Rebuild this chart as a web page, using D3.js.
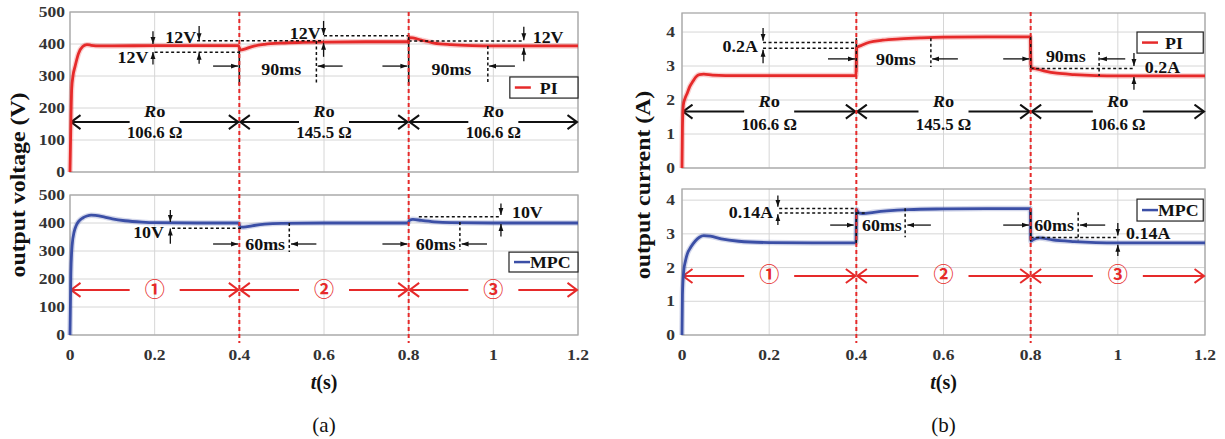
<!DOCTYPE html>
<html>
<head>
<meta charset="utf-8">
<script src="https://cdn.jsdelivr.net/npm/d3@7"></script>
<style>
  body { margin: 0; background: #fff; }
  svg { display: block; }
</style>
</head>
<body>
<svg width="1225" height="439"></svg>
<script>
// ---- data ----
var timeTicks = [0, 0.2, 0.4, 0.6, 0.8, 1, 1.2];
var voltTicks = [0, 100, 200, 300, 400, 500];
var currTicks = [0, 1, 2, 3, 4];
var stepTimes = [0.4, 0.8];
var loadValues = ["106.6 Ω", "145.5 Ω", "106.6 Ω"];
var stageNames = ["①", "②", "③"];

var piVoltT = [0, 0.002, 0.004, 0.007, 0.012, 0.02, 0.03, 0.04, 0.05, 0.07, 0.1, 0.2, 0.3, 0.398, 0.402, 0.41, 0.43, 0.46, 0.5, 0.55, 0.6, 0.7, 0.798, 0.802, 0.81, 0.83, 0.86, 0.9, 0.95, 1.0, 1.2];
var piVolt  = [0, 150, 260, 300, 330, 370, 392, 398, 396, 394, 394, 395, 395, 395, 381, 383, 392, 399, 403, 405, 406, 407, 407, 420, 419, 412, 403, 398, 395, 394, 394];

var mpcVoltT = [0, 0.002, 0.005, 0.01, 0.015, 0.02, 0.03, 0.04, 0.05, 0.06, 0.08, 0.1, 0.13, 0.17, 0.2, 0.3, 0.398, 0.402, 0.41, 0.43, 0.46, 0.5, 0.6, 0.798, 0.802, 0.81, 0.83, 0.86, 0.9, 1.0, 1.2];
var mpcVolt  = [0, 220, 320, 370, 392, 405, 418, 425, 428, 427, 422, 415, 408, 403, 401, 400, 400, 386, 385, 390, 396, 399, 400, 400, 410, 413, 409, 404, 401, 400, 400];

var piCurrT = [0, 0.001, 0.003, 0.007, 0.012, 0.018, 0.025, 0.032, 0.04, 0.05, 0.07, 0.1, 0.2, 0.3, 0.399, 0.401, 0.41, 0.43, 0.46, 0.5, 0.55, 0.6, 0.7, 0.799, 0.801, 0.81, 0.83, 0.86, 0.9, 0.95, 1.0, 1.2];
var piCurr  = [0, 1.2, 1.85, 2.05, 2.2, 2.4, 2.55, 2.68, 2.75, 2.76, 2.73, 2.72, 2.72, 2.72, 2.72, 3.55, 3.6, 3.7, 3.76, 3.8, 3.83, 3.85, 3.86, 3.86, 2.95, 2.92, 2.86, 2.79, 2.75, 2.72, 2.71, 2.71];

var mpcCurrT = [0, 0.001, 0.004, 0.008, 0.012, 0.02, 0.03, 0.04, 0.05, 0.065, 0.09, 0.13, 0.2, 0.3, 0.399, 0.4005, 0.405, 0.415, 0.44, 0.47, 0.52, 0.6, 0.7, 0.799, 0.8005, 0.805, 0.82, 0.85, 0.9, 0.95, 1.0, 1.2];
var mpcCurr  = [0, 1.2, 1.9, 2.2, 2.4, 2.6, 2.78, 2.9, 2.95, 2.93, 2.85, 2.78, 2.74, 2.73, 2.73, 3.72, 3.62, 3.6, 3.64, 3.68, 3.72, 3.74, 3.75, 3.75, 2.78, 2.82, 2.88, 2.82, 2.77, 2.74, 2.73, 2.73];

var RED = "#e62a2a", BLUE = "#3b4fa6";
var SERIF = "'Times New Roman', 'Liberation Serif', serif";

var svg = d3.select("svg");
var defs = svg.append("defs");

// arrow heads
defs.append("marker").attr("id", "head")
    .attr("viewBox", "0 0 10 10").attr("refX", 10).attr("refY", 5)
    .attr("markerWidth", 7).attr("markerHeight", 7)
    .attr("markerUnits", "userSpaceOnUse").attr("orient", "auto")
    .append("path").attr("d", "M0,1.5 L10,5 L0,8.5 z").attr("fill", "#111");

function chevron(id, color) {
    defs.append("marker").attr("id", id)
        .attr("viewBox", "0 0 12 16").attr("refX", 10.5).attr("refY", 8)
        .attr("markerWidth", 12).attr("markerHeight", 16)
        .attr("markerUnits", "userSpaceOnUse").attr("orient", "auto")
        .append("path").attr("d", "M1,1 L10.5,8 L1,15")
        .attr("fill", "none").attr("stroke", color).attr("stroke-width", 2);
}
chevron("chevK", "#111");
chevron("chevR", RED);

// panel = pair of scales + group
function makePanel(x0, x1, yBot, yTop, yMax, yTicks, showX, tickPad) {
    var p = {};
    p.x = d3.scaleLinear().domain([0, 1.2]).range([x0, x1]);
    p.y = d3.scaleLinear().domain([0, yMax]).range([yBot, yTop]);
    p.g = svg.append("g");

    // grid
    p.g.selectAll(".gx").data(timeTicks).join("line")
        .attr("x1", d => p.x(d)).attr("x2", d => p.x(d))
        .attr("y1", yTop).attr("y2", yBot)
        .attr("stroke", "#d6d6d6").attr("stroke-width", 1);
    p.g.selectAll(".gy").data(yTicks).join("line")
        .attr("x1", x0).attr("x2", x1)
        .attr("y1", d => p.y(d)).attr("y2", d => p.y(d))
        .attr("stroke", "#d6d6d6").attr("stroke-width", 1);
    p.g.append("rect")
        .attr("x", x0).attr("y", yTop).attr("width", x1 - x0).attr("height", yBot - yTop)
        .attr("fill", "none").attr("stroke", "#a8a8a8").attr("stroke-width", 1.3);

    // y tick labels
    p.g.selectAll(".ty").data(yTicks).join("text")
        .attr("transform", d => "translate(" + (x0 - tickPad) + "," + (p.y(d) + 5) + ") scale(1.25,1)")
        .attr("text-anchor", "end")
        .attr("font-family", SERIF).attr("font-weight", "bold").attr("font-size", 14)
        .attr("fill", "#333")
        .text(d => d);

    if (showX) {
        p.g.selectAll(".tx").data(timeTicks).join("text")
            .attr("transform", d => "translate(" + p.x(d) + "," + (yBot + 25) + ") scale(1.25,1)")
            .attr("text-anchor", "middle")
            .attr("font-family", SERIF).attr("font-weight", "bold").attr("font-size", 14)
            .attr("fill", "#333")
            .text(d => d);
    }
    return p;
}

function drawCurve(p, ts, vs, color) {
    var pts = ts.map((t, i) => [t, vs[i]]);
    var line = d3.line().x(d => p.x(d[0])).y(d => p.y(d[1])).curve(d3.curveMonotoneX);
    p.g.append("path").datum(pts).attr("d", line)
        .attr("fill", "none").attr("stroke", color).attr("stroke-opacity", 0.22)
        .attr("stroke-width", 5.5).attr("stroke-linejoin", "round");
    p.g.append("path").datum(pts).attr("d", line)
        .attr("fill", "none").attr("stroke", color)
        .attr("stroke-width", 2.8).attr("stroke-linejoin", "round");
}

function dash(p, t0, v0, t1, v1) {
    p.g.append("line")
        .attr("x1", p.x(t0)).attr("y1", p.y(v0)).attr("x2", p.x(t1)).attr("y2", p.y(v1))
        .attr("stroke", "#111").attr("stroke-width", 1.5).attr("stroke-dasharray", "3,2.5");
}
function solid(p, t, v0, v1) {
    p.g.append("line")
        .attr("x1", p.x(t)).attr("y1", p.y(v0)).attr("x2", p.x(t)).attr("y2", p.y(v1))
        .attr("stroke", "#111").attr("stroke-width", 1.6);
}
function arrow(p, t0, v0, t1, v1) {
    p.g.append("line")
        .attr("x1", p.x(t0)).attr("y1", p.y(v0)).attr("x2", p.x(t1)).attr("y2", p.y(v1))
        .attr("stroke", "#111").attr("stroke-width", 1.3).attr("marker-end", "url(#head)");
}
function note(p, t, v, s, anchor) {
    p.g.append("text")
        .attr("transform", "translate(" + p.x(t) + "," + p.y(v) + ") scale(1.12,1)")
        .attr("text-anchor", anchor)
        .attr("font-family", SERIF).attr("font-weight", "bold").attr("font-size", 16)
        .attr("fill", "#111").text(s);
}
function legend(p, t0, t1, vTop, vBot, color, name, textOff) {
    var x0 = p.x(t0), x1 = p.x(t1), y0 = p.y(vTop), y1 = p.y(vBot);
    p.g.append("rect").attr("x", x0).attr("y", y0).attr("width", x1 - x0).attr("height", y1 - y0)
        .attr("fill", "#fff").attr("stroke", "#222").attr("stroke-width", 1.2);
    var ym = (y0 + y1) / 2;
    p.g.append("line").attr("x1", x0 + 5).attr("x2", x0 + 21).attr("y1", ym).attr("y2", ym)
        .attr("stroke", color).attr("stroke-width", 2.5);
    p.g.append("text")
        .attr("transform", "translate(" + (x0 + textOff) + "," + (ym + 6) + ") scale(1.05,1)")
        .attr("font-family", SERIF).attr("font-weight", "bold").attr("font-size", 17)
        .attr("fill", "#111").text(name);
}

// segment double arrows with text in the gap
function segments(p, v, color, marker) {
    var bounds = [0, 0.4, 0.8, 1.2];
    for (var i = 0; i < 3; i++) {
        var a = p.x(bounds[i]), b = p.x(bounds[i + 1]), c = (a + b) / 2;
        p.g.append("line").attr("x1", c - 25).attr("x2", a + 1).attr("y1", p.y(v)).attr("y2", p.y(v))
            .attr("stroke", color).attr("stroke-width", 2).attr("marker-end", "url(#" + marker + ")");
        p.g.append("line").attr("x1", c + 25).attr("x2", b - 1).attr("y1", p.y(v)).attr("y2", p.y(v))
            .attr("stroke", color).attr("stroke-width", 2).attr("marker-end", "url(#" + marker + ")");
    }
}
function loadText(p, vR, vVal) {
    var bounds = [0, 0.4, 0.8, 1.2];
    loadValues.forEach(function (s, i) {
        var c = p.x((bounds[i] + bounds[i + 1]) / 2);
        var t = p.g.append("text")
            .attr("transform", "translate(" + c + "," + p.y(vR) + ") scale(1.08,1)")
            .attr("text-anchor", "middle")
            .attr("font-family", SERIF).attr("font-weight", "bold").attr("font-size", 17).attr("fill", "#111");
        t.append("tspan").attr("font-style", "italic").text("R");
        t.append("tspan").text("o");
        p.g.append("text")
            .attr("transform", "translate(" + c + "," + p.y(vVal) + ") scale(1.05,1)")
            .attr("text-anchor", "middle")
            .attr("font-family", SERIF).attr("font-weight", "bold").attr("font-size", 16).attr("fill", "#111")
            .text(s);
    });
}
function stageText(p, v) {
    var bounds = [0, 0.4, 0.8, 1.2];
    stageNames.forEach(function (s, i) {
        p.g.append("text")
            .attr("x", p.x((bounds[i] + bounds[i + 1]) / 2)).attr("y", p.y(v))
            .attr("text-anchor", "middle")
            .attr("font-family", "'Noto Sans CJK SC', 'DejaVu Sans', sans-serif")
            .attr("font-size", 20).attr("font-weight", "bold")
            .attr("fill", RED).text(s);
    });
}

// ---- panels ----
var TL = makePanel(70, 578, 172, 12, 500, voltTicks, false, 5);
var BL = makePanel(70, 578, 335, 195, 500, voltTicks, true, 5);
var TR = makePanel(682, 1205, 168, 13, 4.56, currTicks, false, 7);
var BR = makePanel(682, 1205, 335, 189, 4.33, currTicks, true, 7);

// (a) voltage, PI
segments(TL, 156, "#111", "chevK");
loadText(TL, 172, 106);
drawCurve(TL, piVoltT, piVolt, RED);
dash(TL, 0.2, 374, 0.4, 374);
dash(TL, 0.3, 410, 0.6, 410);
dash(TL, 0.6, 426, 0.8, 426);
dash(TL, 0.8, 409, 1.07, 409);
dash(TL, 0.582, 409, 0.582, 272);
dash(TL, 0.987, 394, 0.987, 278);
solid(TL, 0.4, 381, 272);
solid(TL, 0.8, 428, 272);
arrow(TL, 0.196, 440, 0.196, 400); arrow(TL, 0.196, 336, 0.196, 375);
arrow(TL, 0.305, 456, 0.305, 412); arrow(TL, 0.305, 338, 0.305, 373);
arrow(TL, 0.599, 472, 0.599, 428); arrow(TL, 0.599, 360, 0.599, 404);
arrow(TL, 1.072, 454, 1.072, 412); arrow(TL, 1.072, 346, 1.072, 388);
arrow(TL, 0.338, 331, 0.397, 331); arrow(TL, 0.644, 331, 0.585, 331);
arrow(TL, 0.738, 331, 0.797, 331); arrow(TL, 1.051, 331, 0.990, 331);
note(TL, 0.185, 340, "12V", "end");
note(TL, 0.298, 403, "12V", "end");
note(TL, 0.592, 416, "12V", "end");
note(TL, 1.093, 403, "12V", "start");
note(TL, 0.452, 303, "90ms", "start");
note(TL, 0.854, 303, "90ms", "start");
legend(TL, 1.039, 1.2, 297, 231, RED, "PI", 30);

// (a) voltage, MPC
segments(BL, 161, RED, "chevR");
stageText(BL, 135);
drawCurve(BL, mpcVoltT, mpcVolt, BLUE);
dash(BL, 0.241, 381, 0.405, 381);
dash(BL, 0.518, 400, 0.518, 296);
dash(BL, 0.921, 404, 0.921, 304);
dash(BL, 0.824, 422, 1.018, 422);
arrow(BL, 0.237, 446, 0.237, 404); arrow(BL, 0.237, 326, 0.237, 380);
arrow(BL, 0.338, 325, 0.397, 325); arrow(BL, 0.582, 325, 0.522, 325);
arrow(BL, 0.738, 325, 0.797, 325); arrow(BL, 0.985, 325, 0.925, 325);
arrow(BL, 1.018, 470, 1.018, 429); arrow(BL, 1.018, 352, 1.018, 396);
note(BL, 0.222, 346, "10V", "end");
note(BL, 0.414, 304, "60ms", "start");
note(BL, 0.817, 304, "60ms", "start");
note(BL, 1.044, 418, "10V", "start");
legend(BL, 1.037, 1.2, 296, 225, BLUE, "MPC", 21);

// (b) current, PI
segments(TR, 1.66, "#111", "chevK");
loadText(TR, 1.79, 1.12);
drawCurve(TR, piCurrT, piCurr, RED);
dash(TR, 0.186, 3.69, 0.4, 3.69); dash(TR, 0.186, 3.52, 0.4, 3.52);
arrow(TR, 0.186, 4.12, 0.186, 3.74); arrow(TR, 0.186, 3.08, 0.186, 3.48);
note(TR, 0.174, 3.41, "0.2A", "end");
arrow(TR, 0.335, 3.21, 0.397, 3.21);
solid(TR, 0.4, 3.82, 2.95);
note(TR, 0.445, 3.03, "90ms", "start");
dash(TR, 0.571, 3.82, 0.571, 2.97);
arrow(TR, 0.633, 3.21, 0.574, 3.21);
arrow(TR, 0.737, 3.21, 0.797, 3.21);
solid(TR, 0.8, 3.88, 2.88);
note(TR, 0.835, 3.12, "90ms", "start");
dash(TR, 0.957, 3.41, 0.957, 2.71);
arrow(TR, 1.017, 3.21, 0.959, 3.21);
dash(TR, 0.8, 2.93, 1.037, 2.93);
arrow(TR, 1.037, 3.38, 1.037, 3.0); arrow(TR, 1.037, 2.3, 1.037, 2.68);
note(TR, 1.062, 2.79, "0.2A", "start");
legend(TR, 1.044, 1.196, 4.0, 3.38, RED, "PI", 28);

// (b) current, MPC
segments(BR, 1.75, RED, "chevR");
stageText(BR, 1.57);
drawCurve(BR, mpcCurrT, mpcCurr, BLUE);
dash(BR, 0.223, 3.75, 0.4, 3.75); dash(BR, 0.223, 3.62, 0.42, 3.62);
arrow(BR, 0.22, 4.14, 0.22, 3.8); arrow(BR, 0.22, 3.26, 0.22, 3.58);
note(BR, 0.209, 3.47, "0.14A", "end");
solid(BR, 0.4, 3.75, 2.73);
arrow(BR, 0.34, 3.26, 0.394, 3.26);
note(BR, 0.413, 3.08, "60ms", "start");
dash(BR, 0.512, 3.76, 0.512, 2.9);
arrow(BR, 0.571, 3.26, 0.517, 3.26);
arrow(BR, 0.737, 3.26, 0.796, 3.26);
solid(BR, 0.8, 3.75, 2.78);
note(BR, 0.808, 3.08, "60ms", "start");
dash(BR, 0.909, 3.64, 0.909, 2.81);
arrow(BR, 0.971, 3.26, 0.913, 3.26);
dash(BR, 0.8, 2.89, 1.0, 2.89);
arrow(BR, 1.0, 3.32, 1.0, 2.95); arrow(BR, 1.0, 2.34, 1.0, 2.68);
note(BR, 1.019, 2.84, "0.14A", "start");
legend(BR, 1.044, 1.196, 4.03, 3.38, BLUE, "MPC", 21);

// red dashed switching lines through both panels
[TL, TR].forEach(function (p) {
    svg.selectAll(null).data(stepTimes).join("line")
        .attr("x1", d => p.x(d)).attr("x2", d => p.x(d))
        .attr("y1", 12).attr("y2", 343)
        .attr("stroke", RED).attr("stroke-width", 2).attr("stroke-dasharray", "4,3");
});

// axis titles and captions
function yTitle(x, y, s) {
    svg.append("text")
        .attr("transform", "translate(" + x + "," + y + ") rotate(-90) scale(1.19,1)")
        .attr("text-anchor", "middle")
        .attr("font-family", SERIF).attr("font-weight", "bold").attr("font-size", 20)
        .attr("fill", "#111").text(s);
}
yTitle(25, 185, "output voltage (V)");
yTitle(650, 185, "output current (A)");

function xTitle(x) {
    var t = svg.append("text")
        .attr("x", x).attr("y", 389).attr("text-anchor", "middle")
        .attr("font-family", SERIF).attr("font-weight", "bold").attr("font-size", 20).attr("fill", "#111");
    t.append("tspan").attr("font-style", "italic").text("t");
    t.append("tspan").text("(s)");
}
xTitle(TL.x(0.6));
xTitle(TR.x(0.6));

svg.append("text").attr("x", TL.x(0.6)).attr("y", 432).attr("text-anchor", "middle")
    .attr("font-family", SERIF).attr("font-size", 21).attr("fill", "#111").text("(a)");
svg.append("text").attr("x", TR.x(0.6)).attr("y", 432).attr("text-anchor", "middle")
    .attr("font-family", SERIF).attr("font-size", 21).attr("fill", "#111").text("(b)");
</script>
</body>
</html>
